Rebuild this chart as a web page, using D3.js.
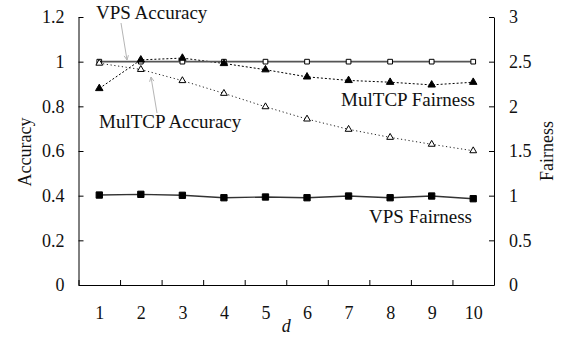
<!DOCTYPE html>
<html>
<head>
<meta charset="utf-8">
<script src="https://cdn.jsdelivr.net/npm/d3@7"></script>
<style>
  html, body { margin: 0; padding: 0; background: #fff; }
  svg { display: block; }
  svg text { font-family: "Liberation Serif", "Times New Roman", Times, serif; }
</style>
</head>
<body>
<svg id="chart" width="565" height="337"></svg>
<script>
// Values per distance d
const dValues = [1, 2, 3, 4, 5, 6, 7, 8, 9, 10];
const vpsAccuracy    = [1.0, 1.0, 1.0, 1.0, 1.0, 1.0, 1.0, 1.0, 1.0, 1.0];
const multcpAccuracy = [0.993, 0.965, 0.915, 0.858, 0.798, 0.743, 0.697, 0.661, 0.630, 0.601];
const multcpFairness = [2.20, 2.52, 2.54, 2.48, 2.41, 2.33, 2.29, 2.27, 2.24, 2.27];
const vpsFairness    = [1.007, 1.015, 1.004, 0.977, 0.985, 0.977, 0.996, 0.977, 0.996, 0.966];
const accuracyTicks = [0, 0.2, 0.4, 0.6, 0.8, 1, 1.2];
const fairnessTicks = [0, 0.5, 1, 1.5, 2, 2.5, 3];

const svg = d3.select("#chart");
const plotLeft = 78.5, plotRight = 494, plotTop = 17, plotBottom = 285;

const x = d3.scaleLinear().domain([0.5, 10.5]).range([plotLeft, plotRight]);
const yAcc = d3.scaleLinear().domain([0, 1.2]).range([plotBottom, plotTop]);
const yFair = d3.scaleLinear().domain([0, 3]).range([plotBottom, plotTop]);

const fontSize = 18;
const noteSize = 19;

// Axes with inward ticks
const gLeft = svg.append("g").attr("transform", `translate(${plotLeft},0)`)
  .call(d3.axisLeft(yAcc).tickValues(accuracyTicks).tickFormat(d3.format("~g"))
    .tickSizeInner(-5).tickSizeOuter(0).tickPadding(14));
const gRight = svg.append("g").attr("transform", `translate(${plotRight},0)`)
  .call(d3.axisRight(yFair).tickValues(fairnessTicks).tickFormat(d3.format("~g"))
    .tickSizeInner(-5).tickSizeOuter(0).tickPadding(15));
const gBottom = svg.append("g").attr("transform", `translate(0,${plotBottom})`)
  .call(d3.axisBottom(x).tickValues(d3.range(0.5, 11, 1)).tickFormat("")
    .tickSizeInner(-5).tickSizeOuter(0));
const gBottomLabels = svg.append("g").attr("transform", `translate(0,${plotBottom})`)
  .call(d3.axisBottom(x).tickValues(dValues).tickFormat(d3.format("d"))
    .tickSize(0).tickPadding(21));
gBottomLabels.select(".domain").remove();

[gLeft, gRight, gBottom, gBottomLabels].forEach(g => {
  g.attr("font-family", null).attr("font-size", null);
  g.selectAll("text").attr("font-size", fontSize).attr("fill", "#111");
  g.selectAll("line").attr("stroke", "#000");
  g.select(".domain").attr("stroke", "#000");
});

// Axis titles
svg.append("text").attr("transform", `translate(25,152) rotate(-90)`)
  .attr("text-anchor", "middle").attr("dominant-baseline", "central")
  .attr("font-size", fontSize).attr("fill", "#111").text("Accuracy");
svg.append("text").attr("transform", `translate(547,151) rotate(-90)`)
  .attr("text-anchor", "middle").attr("dominant-baseline", "central")
  .attr("font-size", fontSize).attr("fill", "#111").text("Fairness");
svg.append("text").attr("x", (plotLeft + plotRight) / 2).attr("y", 332)
  .attr("text-anchor", "middle").attr("font-style", "italic")
  .attr("font-size", fontSize).attr("fill", "#111").text("d");

// Series drawing helpers
function drawLine(values, yScale, opts) {
  const pts = values.map((v, i) => [x(dValues[i]), yScale(v)]);
  svg.append("path").datum(pts)
    .attr("d", d3.line())
    .attr("fill", "none")
    .attr("stroke", opts.stroke)
    .attr("stroke-width", opts.width)
    .attr("stroke-dasharray", opts.dash || null);
  return pts;
}
function drawMarkers(pts, shape, filled, size) {
  const sym = d3.symbol().type(shape === "square" ? d3.symbolSquare : d3.symbolTriangle).size(size);
  svg.append("g").selectAll("path").data(pts).join("path")
    .attr("transform", d => `translate(${d[0]},${d[1]})`)
    .attr("d", sym)
    .attr("fill", filled ? "#000" : "#fff")
    .attr("stroke", "#000")
    .attr("stroke-width", 1);
}

// MulTCP Fairness (filled triangles, dotted)
const pMF = drawLine(multcpFairness, yFair, { stroke: "#000", width: 1, dash: "2,2" });
// MulTCP Accuracy (open triangles, dotted)
const pMA = drawLine(multcpAccuracy, yAcc, { stroke: "#222", width: 1, dash: "1.2,2.6" });
// VPS Accuracy (open squares, solid)
const pVA = drawLine(vpsAccuracy, yAcc, { stroke: "#555", width: 1.6 });
// VPS Fairness (filled squares, solid)
const pVF = drawLine(vpsFairness, yFair, { stroke: "#333", width: 1.4 });

drawMarkers(pVA, "square", false, 22);
drawMarkers(pMA, "triangle", false, 20);
drawMarkers(pMF, "triangle", true, 24);
drawMarkers(pVF, "square", true, 40);

// Annotation labels
const labels = [
  { text: "VPS Accuracy", x: 96, y: 19, anchor: "start" },
  { text: "MulTCP Accuracy", x: 99, y: 128, anchor: "start" },
  { text: "MulTCP Fairness", x: 475, y: 106, anchor: "end" },
  { text: "VPS Fairness", x: 472, y: 223, anchor: "end" }
];
svg.append("g").selectAll("text").data(labels).join("text")
  .attr("x", d => d.x).attr("y", d => d.y)
  .attr("text-anchor", d => d.anchor)
  .attr("font-size", noteSize).attr("fill", "#111")
  .text(d => d.text);

// Light grey pointer arrows
const arrowColor = "#b5b5b5";
function pointer(x1, y1, x2, y2) {
  svg.append("line").attr("x1", x1).attr("y1", y1).attr("x2", x2).attr("y2", y2)
    .attr("stroke", arrowColor).attr("stroke-width", 1);
  const ang = Math.atan2(y2 - y1, x2 - x1);
  const len = 5, spread = 0.45;
  const h = [
    [x2 - len * Math.cos(ang - spread), y2 - len * Math.sin(ang - spread)],
    [x2, y2],
    [x2 - len * Math.cos(ang + spread), y2 - len * Math.sin(ang + spread)]
  ];
  svg.append("path").attr("d", d3.line()(h)).attr("fill", "none")
    .attr("stroke", arrowColor).attr("stroke-width", 1);
}
pointer(121, 23, 127, 60);
pointer(157, 113, 151, 77);
</script>
</body>
</html>
